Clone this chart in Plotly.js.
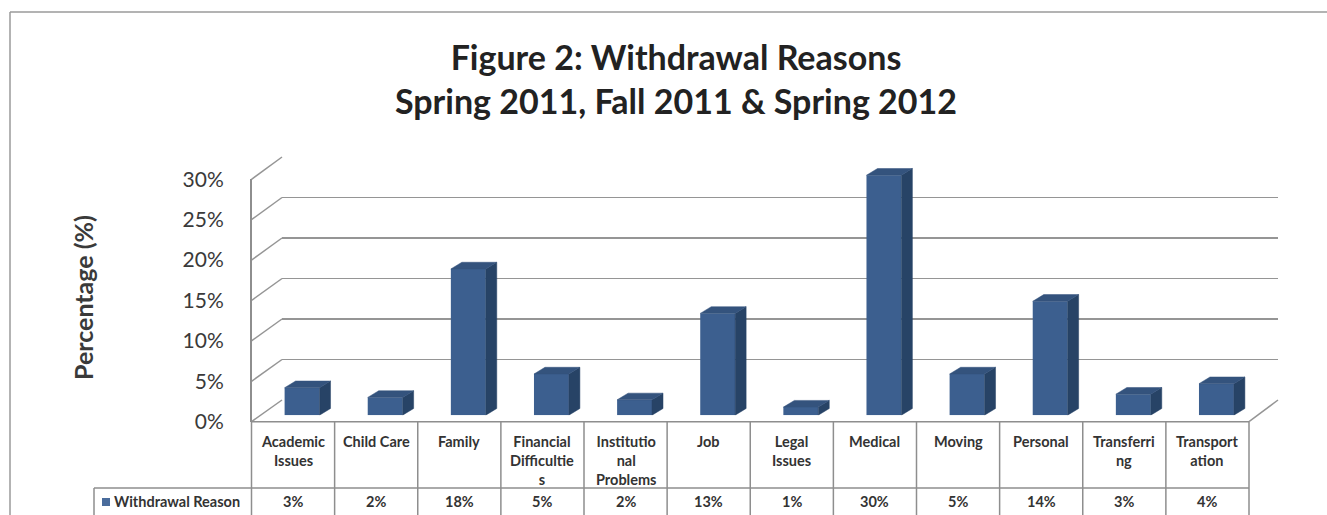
<!DOCTYPE html>
<html><head><meta charset="utf-8">
<script src="https://cdn.plot.ly/plotly-3.0.1.min.js"></script>
<style>html,body{margin:0;padding:0;background:#fff}</style>
</head><body><div id="chart" style="width:1327px;height:515px"></div>
<script>
// ---- data ----
const categories = ["Academic Issues","Child Care","Family","Financial Difficulties","Institutional Problems","Job","Legal Issues","Medical","Moving","Personal","Transferring","Transportation"];
const headerLabels = ["Academic<br>Issues","Child Care","Family","Financial<br>Difficultie<br>s","Institutio<br>nal<br>Problems","Job","Legal<br>Issues","Medical","Moving","Personal","Transferri<br>ng","Transport<br>ation"];
const values = [3.4, 2.2, 18.1, 5.1, 1.9, 12.6, 1.0, 29.7, 5.1, 14.1, 2.6, 3.9];
const seriesName = "Withdrawal Reason";
const yTicks = [0, 5, 10, 15, 20, 25, 30];
const titleText = "Figure 2: Withdrawal Reasons<br>Spring 2011, Fall 2011 & Spring 2012";
const yTitle = "Percentage (%)";

// ---- geometry helpers (pixel -> paper) ----
const W = 1327, H = 515;
const X = px => px / W;
const Y = py => 1 - py / H;
const FONT = "Lato, 'Open Sans', sans-serif";
const front = {l: 251.5, r: 1249, y0: 421.7, k: 8.08};
const back  = {l: 282,   r: 1278, y0: 400,   k: 8.1};
const barP  = {l: 260.5, r: 1258, y0: 415.2, k: 8.08, ymax: 32};
const cellW = (front.r - front.l) / 12;

const idx = categories.map((c, i) => i);
const hw = 0.21, dxu = 11 / cellW, dyu = 6.7 / barP.k;
const sideX = [], sideY = [], topX = [], topY = [];
values.forEach((v, i) => {
  sideX.push(i + hw, i + hw, i + hw + dxu, i + hw + dxu, i + hw, null);
  sideY.push(0, v, v + dyu, dyu, 0, null);
  topX.push(i - hw, i + hw, i + hw + dxu, i - hw + dxu, i - hw, null);
  topY.push(v, v, v + dyu, v + dyu, v, null);
});

const traces = [
  // anchor trace so the back-wall subplot (with its gridlines) is drawn
  {type: 'scatter', mode: 'markers', x: [0], y: [0], xaxis: 'x', yaxis: 'y', marker: {opacity: 0},
   hoverinfo: 'skip', showlegend: false},
  {type: 'bar', name: seriesName, x: idx, y: values, xaxis: 'x2', yaxis: 'y2', width: 2 * hw,
   marker: {color: '#3c5f8f', line: {width: 0}}, hoverinfo: 'skip', showlegend: false},
  {type: 'scatter', mode: 'lines', x: sideX, y: sideY, xaxis: 'x2', yaxis: 'y2', fill: 'toself',
   fillcolor: '#274366', line: {color: '#274366', width: 0.5}, hoverinfo: 'skip', showlegend: false},
  {type: 'scatter', mode: 'lines', x: topX, y: topY, xaxis: 'x2', yaxis: 'y2', fill: 'toself',
   fillcolor: '#34537d', line: {color: '#34537d', width: 0.5}, hoverinfo: 'skip', showlegend: false}
];

const gridCol = '#959595', tableCol = '#8e8e8e';
const shapes = [];
const line = (x0, y0, x1, y1, col, w) => shapes.push({type: 'line', xref: 'paper', yref: 'paper',
  x0: X(x0), y0: Y(y0), x1: X(x1), y1: Y(y1), line: {color: col, width: w}, layer: 'below'});
yTicks.forEach(v => line(front.l, front.y0 - front.k * v, back.l, back.y0 - back.k * v, gridCol, 1.5));
line(front.r, front.y0, back.r, back.y0, gridCol, 1.5);
line(front.l, front.y0, front.r, front.y0, tableCol, 1.5);
for (let k = 0; k <= 12; k++) line(front.l + k * cellW, front.y0, front.l + k * cellW, 520, tableCol, 1.5);
line(94, 488, front.r, 488, tableCol, 1.5);
line(94, 488, 94, 520, tableCol, 1.5);
line(10, 12, 1330, 12, '#9a9a9a', 1.5);
line(10, 12, 10, 520, '#9a9a9a', 1.5);
shapes.push({type: 'rect', xref: 'paper', yref: 'paper', x0: X(102), x1: X(110), y0: Y(506), y1: Y(498),
  fillcolor: '#4a6c9c', line: {width: 0}});

const annotations = [];
const tFont = {family: FONT, size: 14.5, weight: 'bold', color: '#333'};
annotations.push({text: yTitle, xref: 'paper', yref: 'paper', x: X(66), y: Y(298), textangle: -90,
  showarrow: false, font: {family: FONT, size: 25, weight: 'bold', color: '#3a3a3a'}});
headerLabels.forEach((t, i) => annotations.push({text: t, xref: 'x3', yref: 'paper', x: i, y: Y(431),
  yanchor: 'top', showarrow: false, font: tFont}));
values.forEach((v, i) => annotations.push({text: Math.round(v) + '%', xref: 'x3', yref: 'paper', x: i, y: Y(501),
  yanchor: 'middle', showarrow: false, font: tFont}));
annotations.push({text: seriesName, xref: 'paper', yref: 'paper', x: X(112), y: Y(501), xanchor: 'left',
  yanchor: 'middle', showarrow: false, font: tFont});

const hidden = {showgrid: false, zeroline: false, showticklabels: false, showline: false, ticks: '', fixedrange: true};
const layout = {
  width: W, height: H, margin: {l: 0, r: 0, t: 0, b: 0},
  paper_bgcolor: '#fff', plot_bgcolor: 'rgba(0,0,0,0)', showlegend: false,
  title: {text: titleText, x: X(676), xanchor: 'center', xref: 'container', y: Y(70), yanchor: 'top', yref: 'container',
    font: {family: FONT, size: 34, weight: 'bold', color: '#222'}},
  // back wall
  xaxis: Object.assign({}, hidden, {domain: [X(back.l), X(back.r)], range: [-0.5, 11.5], anchor: 'y'}),
  yaxis: Object.assign({}, hidden, {domain: [Y(back.y0), Y(back.y0 - back.k * 30)], range: [0, 30], anchor: 'x',
    showgrid: true, gridcolor: gridCol, gridwidth: 1.5, tickvals: yTicks}),
  // bars
  xaxis2: Object.assign({}, hidden, {domain: [X(barP.l), X(barP.r)], range: [-0.5, 11.5], anchor: 'y2'}),
  yaxis2: Object.assign({}, hidden, {domain: [Y(barP.y0), Y(barP.y0 - barP.k * barP.ymax)], range: [0, barP.ymax], anchor: 'x2'}),
  // front plane with tick labels
  xaxis3: Object.assign({}, hidden, {domain: [X(front.l), X(front.r)], range: [-0.5, 11.5], anchor: 'y3'}),
  yaxis3: Object.assign({}, hidden, {domain: [Y(front.y0), Y(front.y0 - front.k * 30)], range: [0, 30], anchor: 'x3',
    showline: true, linecolor: tableCol, linewidth: 1.5, showticklabels: true, tickvals: yTicks,
    ticktext: yTicks.map(v => v + '%'), ticklabelstandoff: 22, tickfont: {family: FONT, size: 21, color: '#3a3a3a'}}),
  shapes: shapes, annotations: annotations
};
Plotly.newPlot('chart', traces, layout, {staticPlot: true});
</script></body></html>
